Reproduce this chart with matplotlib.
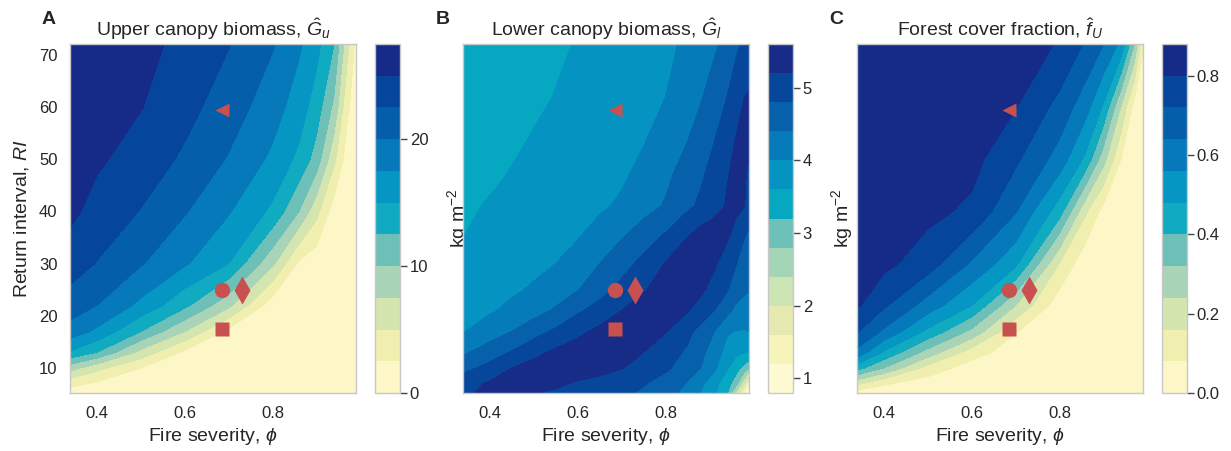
import numpy as np
import matplotlib
matplotlib.use("Agg")
import matplotlib.pyplot as plt
from matplotlib.colors import ListedColormap

plt.rcParams['font.family'] = ['Liberation Sans', 'DejaVu Sans']
plt.rcParams['mathtext.fontset'] = 'custom'
plt.rcParams['mathtext.rm'] = 'Liberation Sans'
plt.rcParams['mathtext.it'] = 'Liberation Sans:italic'
plt.rcParams['mathtext.bf'] = 'Liberation Sans:bold'

# grid: columns = fire severity, rows = return interval
fire_severity = [0.34, 0.40, 0.50, 0.60, 0.70, 0.80, 0.86, 0.90, 0.94, 0.97, 0.99]
return_interval = [5, 7, 10, 13, 17, 22, 30, 40, 50, 60, 72]

# upper canopy biomass (kg m-2)
upper_biomass = [
    [1.2, 0.8, 0.3, 0.1, 0.05, 0.02, 0.01, 0.01, 0.01, 0.01, 0.01],
    [3.2, 2.1, 1.0, 0.3, 0.1, 0.05, 0.02, 0.01, 0.01, 0.01, 0.01],
    [8.5, 5.8, 2.5, 1.0, 0.3, 0.1, 0.05, 0.02, 0.01, 0.01, 0.01],
    [14.7, 12.5, 6.7, 2.0, 0.7, 0.3, 0.1, 0.05, 0.02, 0.01, 0.01],
    [18.9, 17.0, 12.5, 7.5, 1.8, 0.7, 0.2, 0.1, 0.05, 0.02, 0.01],
    [21.4, 20.0, 16.9, 13.1, 8.1, 1.0, 0.3, 0.2, 0.1, 0.05, 0.02],
    [23.6, 22.4, 20.2, 17.8, 15.0, 8.0, 2.0, 0.8, 0.2, 0.1, 0.05],
    [25.6, 24.1, 22.4, 20.2, 17.7, 14.5, 10.0, 5.8, 1.2, 0.3, 0.2],
    [26.2, 25.4, 23.9, 22.1, 19.8, 17.0, 14.4, 11.4, 5.6, 1.2, 0.5],
    [26.7, 26.0, 25.1, 23.3, 21.3, 18.6, 16.3, 13.8, 9.4, 3.0, 1.0],
    [27.2, 26.6, 25.8, 24.3, 22.6, 20.2, 17.9, 15.8, 12.5, 5.8, 1.8],
]

# forest cover fraction
forest_cover = [
    [0.03, 0.02, 0.01, 0.005, 0.002, 0.001, 0.001, 0.001, 0.001, 0.001, 0.001],
    [0.175, 0.09, 0.04, 0.01, 0.004, 0.001, 0.001, 0.001, 0.001, 0.001, 0.001],
    [0.43, 0.32, 0.13, 0.04, 0.01, 0.002, 0.001, 0.001, 0.001, 0.001, 0.001],
    [0.615, 0.47, 0.29, 0.12, 0.03, 0.002, 0.001, 0.001, 0.001, 0.001, 0.001],
    [0.726, 0.627, 0.463, 0.30, 0.085, 0.003, 0.001, 0.001, 0.001, 0.001, 0.001],
    [0.81, 0.733, 0.605, 0.48, 0.24, 0.03, 0.002, 0.001, 0.001, 0.001, 0.001],
    [0.835, 0.82, 0.76, 0.63, 0.50, 0.158, 0.02, 0.005, 0.002, 0.001, 0.001],
    [0.85, 0.84, 0.82, 0.785, 0.645, 0.437, 0.17, 0.05, 0.01, 0.003, 0.002],
    [0.86, 0.85, 0.84, 0.825, 0.735, 0.606, 0.46, 0.27, 0.08, 0.01, 0.005],
    [0.865, 0.86, 0.85, 0.84, 0.803, 0.694, 0.59, 0.47, 0.235, 0.05, 0.01],
    [0.87, 0.865, 0.86, 0.855, 0.83, 0.795, 0.71, 0.64, 0.54, 0.32, 0.09],
]

# lower canopy biomass (kg m-2) has a ridge, so it was read on a finer grid
fire_severity_b = [0.34, 0.40, 0.45, 0.50, 0.55, 0.60, 0.65, 0.70, 0.75, 0.80,
                   0.85, 0.88, 0.91, 0.94, 0.96, 0.98, 0.99]
return_interval_b = [5, 7, 10, 13, 17, 21, 25, 30, 35, 41, 47, 54, 62, 72]
lower_biomass = [
    [5.12, 5.33, 5.30, 5.20, 5.12, 5.05, 4.98, 4.88, 4.72, 4.55, 4.26, 3.97, 3.66, 3.20, 2.20, 1.10, 0.85],
    [5.05, 5.25, 5.38, 5.40, 5.28, 5.15, 5.06, 4.97, 4.83, 4.63, 4.37, 4.10, 3.75, 3.35, 3.00, 2.00, 1.30],
    [4.68, 4.93, 5.20, 5.35, 5.43, 5.43, 5.35, 5.22, 5.05, 4.87, 4.60, 4.40, 4.10, 3.65, 3.35, 3.05, 2.85],
    [4.33, 4.60, 4.83, 5.08, 5.28, 5.40, 5.45, 5.40, 5.20, 4.98, 4.74, 4.50, 4.22, 3.85, 3.70, 3.62, 3.60],
    [3.98, 4.20, 4.40, 4.64, 4.87, 5.10, 5.30, 5.42, 5.40, 5.22, 4.90, 4.68, 4.41, 4.05, 3.98, 3.98, 4.00],
    [3.90, 3.96, 4.08, 4.25, 4.45, 4.74, 4.96, 5.20, 5.38, 5.40, 5.23, 5.02, 4.81, 4.52, 4.30, 4.25, 4.25],
    [3.83, 3.90, 3.95, 4.04, 4.20, 4.38, 4.64, 4.92, 5.17, 5.36, 5.38, 5.28, 5.05, 4.83, 4.60, 4.45, 4.42],
    [3.70, 3.78, 3.85, 3.92, 4.00, 4.20, 4.40, 4.65, 4.91, 5.22, 5.40, 5.40, 5.27, 5.00, 4.82, 4.58, 4.50],
    [3.60, 3.70, 3.76, 3.84, 3.90, 3.98, 4.17, 4.38, 4.62, 4.87, 5.20, 5.38, 5.42, 5.25, 5.05, 4.80, 4.70],
    [3.54, 3.63, 3.69, 3.74, 3.80, 3.87, 3.94, 4.06, 4.25, 4.44, 4.72, 4.88, 5.07, 5.23, 5.30, 5.20, 5.08],
    [3.48, 3.54, 3.62, 3.68, 3.73, 3.80, 3.87, 3.94, 4.11, 4.30, 4.60, 4.73, 4.97, 5.18, 5.28, 5.23, 5.15],
    [3.42, 3.48, 3.54, 3.62, 3.68, 3.75, 3.82, 3.89, 3.97, 4.16, 4.38, 4.60, 4.77, 5.05, 5.21, 5.28, 5.26],
    [3.37, 3.42, 3.48, 3.54, 3.61, 3.68, 3.76, 3.83, 3.91, 4.00, 4.23, 4.36, 4.60, 4.80, 5.00, 5.20, 5.22],
    [3.32, 3.37, 3.42, 3.48, 3.55, 3.62, 3.70, 3.77, 3.85, 3.93, 4.06, 4.20, 4.32, 4.55, 4.72, 4.88, 5.05],
]

# the four marked sites
site_phi = [0.685, 0.685, 0.73, 0.685]
site_ri = [59.5, 25, 25, 17.5]
site_marker = ['<', 'o', 'd', 's']
site_size = [10.5, 11, 14, 10]

upper_levels = np.arange(0, 27.6, 2.5)
lower_levels = np.arange(0.8, 5.61, 0.4)
cover_levels = np.arange(0, 0.881, 0.08)

colors_11 = ['#fdf7c8', '#f1efb0', '#d5e5b0', '#a9d4b7', '#6dc0b8', '#10aac1',
             '#0596c3', '#0579b9', '#055ea9', '#05469c', '#162b88']
colors_12 = ['#fefad2', '#f7f4bb', '#e7eab0', '#cde4b3', '#a5d5b7', '#6ec1b8',
             '#05a8c0', '#0594c2', '#067bb9', '#0661aa', '#06479c', '#172c86']

X, Y = np.meshgrid(fire_severity, return_interval)
Xb, Yb = np.meshgrid(fire_severity_b, return_interval_b)

panels = [
    ('A', 'Upper canopy biomass, $\\hat{G}_u$', X, Y, upper_biomass, upper_levels,
     colors_11, [0, 10, 20], '%g', 'kg m$^{-2}$'),
    ('B', 'Lower canopy biomass, $\\hat{G}_l$', Xb, Yb, lower_biomass, lower_levels,
     colors_12, [1, 2, 3, 4, 5], '%g', 'kg m$^{-2}$'),
    ('C', 'Forest cover fraction, $\\hat{f}_U$', X, Y, forest_cover, cover_levels,
     colors_11, [0.0, 0.2, 0.4, 0.6, 0.8], '%.1f', None),
]

W, H = 1231, 451
fig = plt.figure(figsize=(W / 100, H / 100), dpi=100)

ax_left = [70, 463, 857]
cb_left = [375, 768, 1162]
letter_x = [49, 443, 836]
top, bottom = 44, 393

grey = '#c8c8c8'
text_col = '#262626'

for i, (letter, title, xx, yy, z, levels, cols, cticks, fmt, clabel) in enumerate(panels):
    ax = fig.add_axes([ax_left[i] / W, (H - bottom) / H, 286 / W, (bottom - top) / H])
    cax = fig.add_axes([cb_left[i] / W, (H - bottom) / H, 25 / W, (bottom - top) / H])

    cs = ax.contourf(xx, yy, np.array(z), levels=levels, cmap=ListedColormap(cols))
    for p, r, m, s in zip(site_phi, site_ri, site_marker, site_size):
        ax.plot(p, r, marker=m, ms=s, color='#c8504f', mec='none', ls='none')

    ax.set_xlim(0.339, 0.99)
    ax.set_ylim(5.2, 72.1)
    ax.set_xticks([0.4, 0.6, 0.8])
    ax.set_xticklabels(['0.4', '0.6', '0.8'])
    ax.tick_params(length=0, pad=9, labelsize=12, colors=text_col)
    if i == 0:
        ax.set_yticks([10, 20, 30, 40, 50, 60, 70])
        ax.set_ylabel('Return interval, $RI$', fontsize=14, color=text_col, labelpad=6)
    else:
        ax.set_yticks([])
    ax.set_xlabel('Fire severity, $\\phi$', fontsize=14, color=text_col, labelpad=4)
    ax.set_title(title, fontsize=14, color=text_col, pad=6)
    for sp in ax.spines.values():
        sp.set_color(grey)
        sp.set_linewidth(1.0)

    cb = fig.colorbar(cs, cax=cax, ticks=cticks, format=fmt)
    cb.outline.set_edgecolor(grey)
    cb.outline.set_linewidth(1.0)
    cax.tick_params(length=5, width=1, color='#444444', labelsize=12, pad=2,
                    labelcolor=text_col)
    if clabel:
        cax.set_ylabel(clabel, fontsize=14, color=text_col, labelpad=12)

    fig.text(letter_x[i] / W, 1 - 20 / H, letter, fontsize=14, fontweight='bold',
             ha='center', va='center', color=text_col)

fig.savefig('out.png', dpi=100)
